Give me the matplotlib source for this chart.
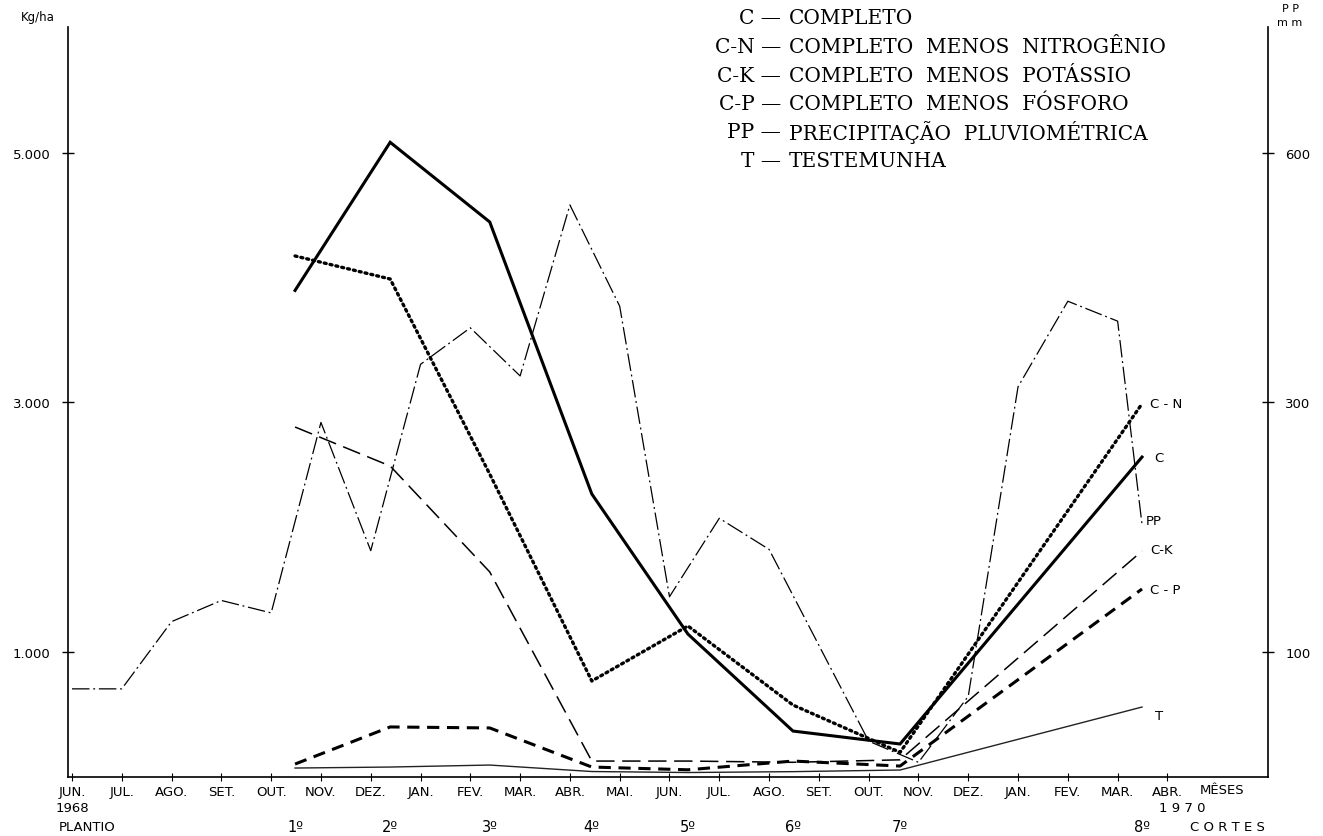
import numpy as np
import matplotlib.pyplot as plt

# meses (jun/1968 .. abr/1970)
months = ['JUN.', 'JUL.', 'AGO.', 'SET.', 'OUT.', 'NOV.', 'DEZ.', 'JAN.', 'FEV.', 'MAR.', 'ABR.',
          'MAI.', 'JUN.', 'JUL.', 'AGO.', 'SET.', 'OUT.', 'NOV.', 'DEZ.', 'JAN.', 'FEV.', 'MAR.', 'ABR.']

# cortes (posicao em meses a partir de jun/1968)
cut_x = [4.48, 6.39, 8.39, 10.44, 12.37, 14.48, 16.63, 21.49]
cut_labels = ['1º', '2º', '3º', '4º', '5º', '6º', '7º', '8º']

# producao kg/ha
c = [3900, 5090, 4450, 2265, 1140, 361, 257, 2562]
c_n = [4177, 3992, 2425, 763, 1205, 570, 190, 2990]
c_k = [2803, 2490, 1639, 120, 120, 110, 130, 1807]
c_p = [96, 394, 386, 72, 50, 120, 80, 1502]
t = [64, 72, 88, 36, 28, 35, 48, 554]

# precipitacao mm
pp_x = list(range(22)) + [21.49]
pp_mm = [70, 70, 124, 141, 131, 284, 181, 346, 390, 332, 538, 416,
         144, 207, 182, 105, 28, 11, 64, 319, 422, 398, 202]

codes = ['C', 'C-N', 'C-K', 'C-P', 'PP', 'T']
names = ['COMPLETO', 'COMPLETO  MENOS  NITROGÊNIO', 'COMPLETO  MENOS  POTÁSSIO',
         'COMPLETO  MENOS  FÓSFORO', 'PRECIPITAÇÃO  PLUVIOMÉTRICA', 'TESTEMUNHA']

W, H = 1323, 837
fig = plt.figure(figsize=(W / 100, H / 100), dpi=100)
ax = fig.add_axes([68 / W, 59 / H, 1200 / W, 750 / H])

def ypos(px):
    # pixel row -> axes fraction
    return (778 - px) / 750

ax.plot(cut_x, c, color='black', lw=2.2, solid_joinstyle='miter')
ax.plot(cut_x, c_n, color='black', lw=2.4, linestyle=(0, (0.6, 1.2)), dash_capstyle='round')
ax.plot(cut_x, c_k, color='black', lw=1.1, linestyle=(0, (12, 5)))
ax.plot(cut_x, c_p, color='black', lw=2.2, linestyle=(0, (4, 2.5)))
ax.plot(cut_x, t, color='#222222', lw=1.0)

ax.set_xlim(-0.08, 24.02)
ax.set_ylim(-8, 6016)

# eixo direito (PP mm), escala nao linear como no original
mm_pts = [-100, 0, 100, 300, 600, 1000]
kg_pts = [-1000, 0, 1000, 3000, 5000, 7666.7]
fwd = lambda v: np.interp(v, mm_pts, kg_pts)
inv = lambda v: np.interp(v, kg_pts, mm_pts)
ax2 = ax.twinx()
ax2.set_yscale('function', functions=(fwd, inv))
ax2.set_ylim(inv(-8), inv(6016))
ax2.plot(pp_x, pp_mm, color='black', lw=0.9, linestyle=(0, (14, 3, 1.5, 3)))
ax2.set_yticks([100, 300, 600], ['100', '300', '600'])
ax2.yaxis.set_minor_locator(plt.NullLocator())
ax2.tick_params(axis='y', direction='inout', length=9, width=1.0, pad=8, labelsize=9.5)

for a in (ax, ax2):
    a.spines['top'].set_visible(False)
ax.spines['right'].set_visible(False)
ax2.spines['left'].set_visible(False)
ax2.spines['bottom'].set_visible(False)
ax.spines['left'].set_linewidth(1.2)
ax.spines['bottom'].set_linewidth(1.2)
ax2.spines['right'].set_linewidth(1.2)

ax.set_xticks(range(len(months)), months)
ax.tick_params(axis='x', direction='inout', length=6, pad=3, labelsize=9.5)
ax.set_yticks([1000, 3000, 5000], ['1.000', '3.000', '5.000'])
ax.tick_params(axis='y', direction='inout', length=9, width=1.0, pad=8, labelsize=9.5)

xt = ax.get_xaxis_transform()
ax.text(0, ypos(809), '1968', transform=xt, ha='center', va='center', fontsize=9.5)
ax.text(0.3, ypos(828), 'PLANTIO', transform=xt, ha='center', va='center', fontsize=9.5)
for x, lab in zip(cut_x, cut_labels):
    ax.text(x, ypos(828), lab, transform=xt, ha='center', va='center', fontsize=10.5)
ax.text(22.3, ypos(809), '1 9 7 0', transform=xt, ha='center', va='center', fontsize=9.5)
ax.text(23.1, ypos(791), 'MÊSES', transform=xt, ha='center', va='center', fontsize=9.5)
ax.text(23.2, ypos(828), 'C O R T E S', transform=xt, ha='center', va='center', fontsize=9.5)

# rotulos no fim das linhas
end_labels = [('C - N', c_n[-1], (6, 0)), ('C', c[-1], (9, 0)), ('C-K', c_k[-1], (6, 1)),
              ('C - P', c_p[-1], (6, 0)), ('T', t[-1], (9, -6))]
for lab, v, off in end_labels:
    ax.annotate(lab, (cut_x[-1], v), xytext=off, textcoords='offset points',
                ha='left', va='center', fontsize=9.5)
ax2.annotate('PP', (pp_x[-1], pp_mm[-1]), xytext=(3, 3), textcoords='offset points',
             ha='left', va='center', fontsize=9.5)

fig.text(38 / W, 1 - 18 / H, 'Kg/ha', ha='center', va='center', fontsize=8.5)
fig.text(1290 / W, 1 - 9 / H, 'P P', ha='center', va='center', fontsize=8)
fig.text(1290 / W, 1 - 23 / H, 'm m', ha='center', va='center', fontsize=8)

# legenda
for i, (code, name) in enumerate(zip(codes, names)):
    y = 1 - (19 + 28.5 * i) / H
    fig.text(781 / W, y, code + ' —', ha='right', va='center', family='DejaVu Serif', fontsize=14.5)
    fig.text(789 / W, y, name, ha='left', va='center', family='DejaVu Serif', fontsize=14.5)

fig.savefig('out.png', dpi=100)
